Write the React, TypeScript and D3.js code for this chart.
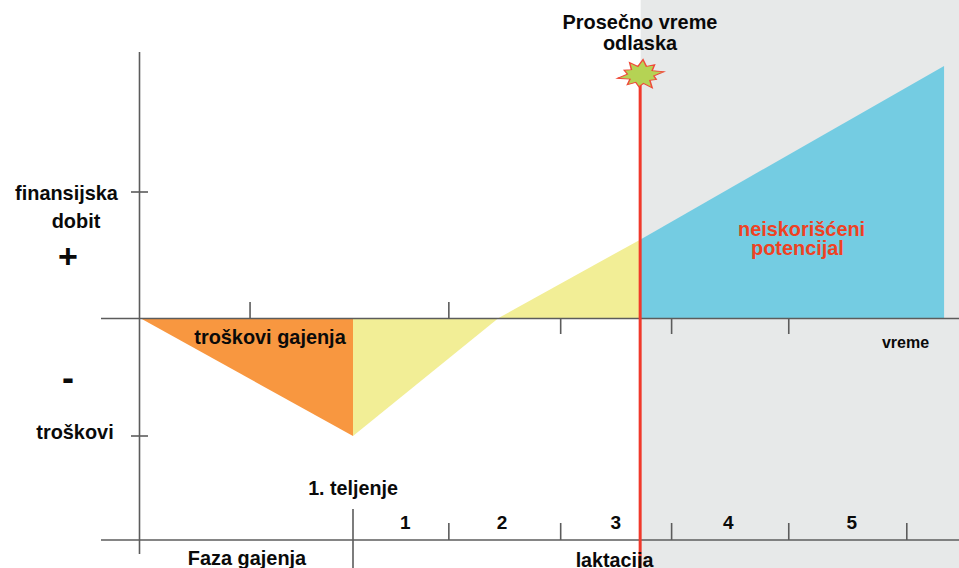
import React from "react";
import * as d3 from "d3";

// x unit: months of the cow's life; y unit: financial result (+/- 1 = labelled axis ticks)
const rearingLoss: [number, number][] = [[0, 0], [24, 0], [24, -1]];
const lactationLoss: [number, number][] = [[24, 0], [40.4, 0], [24, -1]];
const lactationGain: [number, number][] = [[40.4, 0], [56.3, 0.62], [56.3, 0]];
const unusedPotential: [number, number][] = [[56.3, 0.62], [90.6, 2.0], [90.6, 0], [56.3, 0]];
const upperTicksUp = [12.4, 34.8];
const upperTicksDown = [47.4, 59.9, 73.1];
const lowerTicks = [34.8, 47.4, 59.9, 73.1, 86.4];
const yTicks = [1, -1];
const departureMonth = 56.3;
const calvingMonth = 24;
const lactationNumbers = [
  { n: "1", m: 29.9 },
  { n: "2", m: 40.8 },
  { n: "3", m: 53.6 },
  { n: "4", m: 66.3 },
  { n: "5", m: 80.2 },
];
const starRadii = [25, 15, 22, 14, 25, 14, 18, 13, 24, 14, 19, 13, 21, 13, 25, 14, 19, 13, 23, 14];
const textLabels = [
  { t: "Prosečno vreme", x: 640, y: 29, s: 19.9, a: "middle", c: "#0a0a0a" },
  { t: "odlaska", x: 640, y: 50, s: 19.9, a: "middle", c: "#0a0a0a" },
  { t: "finansijska", x: 66.5, y: 200, s: 19.9, a: "middle", c: "#0a0a0a" },
  { t: "dobit", x: 76, y: 228, s: 19.9, a: "middle", c: "#0a0a0a" },
  { t: "+", x: 68, y: 268, s: 34, a: "middle", c: "#0a0a0a" },
  { t: "-", x: 68, y: 390, s: 36, a: "middle", c: "#0a0a0a" },
  { t: "troškovi", x: 75, y: 439, s: 19.9, a: "middle", c: "#0a0a0a" },
  { t: "troškovi gajenja", x: 270, y: 344, s: 19.9, a: "middle", c: "#0a0a0a" },
  { t: "neiskorišćeni", x: 738, y: 236, s: 19.9, a: "start", c: "#ef4123" },
  { t: "potencijal", x: 751, y: 255, s: 19.9, a: "start", c: "#ef4123" },
  { t: "vreme", x: 905.5, y: 348, s: 16, a: "middle", c: "#0a0a0a" },
  { t: "1. teljenje", x: 353, y: 495, s: 19.7, a: "middle", c: "#0a0a0a" },
  { t: "Faza gajenja", x: 247, y: 565, s: 19.9, a: "middle", c: "#0a0a0a" },
  { t: "laktacija", x: 614.5, y: 567, s: 19.7, a: "middle", c: "#0a0a0a" },
];

const W = 959;
const H = 568;
const x = d3.scaleLinear().domain([0, 24]).range([140, 353]);
const y = d3.scaleLinear().domain([-1, 0, 1]).range([436, 318, 192]);
const area = d3.line<[number, number]>().x((d) => x(d[0])).y((d) => y(d[1]));
const axisColor = "#5c5c5c";
const axisY2 = 540;

export default function App() {
  const starX = x(departureMonth) + 1;
  const starY = 75;
  const star = d3
    .lineRadial<number>()
    .angle((_, i) => (i / starRadii.length) * 2 * Math.PI + 0.1)
    .radius((d) => d)
    .curve(d3.curveLinearClosed)(starRadii) as string;

  return (
    <svg
      width={W}
      height={H}
      style={{ position: "absolute", left: 0, top: 0, background: "#fff", fontFamily: "'Liberation Sans', Arial, sans-serif" }}
    >
      <rect x={x(departureMonth) + 1} y={0} width={W - x(departureMonth)} height={H} fill="#e7e9e9" />
      <path d={area(rearingLoss) as string} fill="#f89740" />
      <path d={area(lactationLoss) as string} fill="#f2ee96" />
      <path d={area(lactationGain) as string} fill="#f2ee96" />
      <path d={area(unusedPotential) as string} fill="#74cce2" />

      <g stroke={axisColor} strokeWidth={1.6} fill="none">
        <line x1={139.5} x2={139.5} y1={52} y2={554} />
        <line x1={101} x2={W} y1={y(0) + 0.5} y2={y(0) + 0.5} />
        <line x1={101} x2={W} y1={axisY2} y2={axisY2} />
        <line x1={x(calvingMonth)} x2={x(calvingMonth)} y1={509} y2={H} />
        {yTicks.map((t) => (
          <line key={t} x1={131} x2={148} y1={y(t)} y2={y(t)} />
        ))}
        {upperTicksUp.map((t) => (
          <line key={t} x1={x(t)} x2={x(t)} y1={302} y2={y(0)} />
        ))}
        {upperTicksDown.map((t) => (
          <line key={t} x1={x(t)} x2={x(t)} y1={y(0)} y2={334} />
        ))}
        {lowerTicks.map((t) => (
          <line key={t} x1={x(t)} x2={x(t)} y1={523} y2={axisY2} />
        ))}
      </g>

      <line x1={x(departureMonth) + 0.5} x2={x(departureMonth) + 0.5} y1={85} y2={H} stroke="#f0392b" strokeWidth={3} />
      <path
        d={star}
        transform={`translate(${starX},${starY}) scale(0.95,0.62)`}
        fill="#b5d354"
        stroke="#ef4a3a"
        strokeWidth={1.6}
      />

      {textLabels.map((l) => (
        <text key={l.t} x={l.x} y={l.y} fontSize={l.s} fontWeight={700} textAnchor={l.a as "middle" | "start"} fill={l.c}>
          {l.t}
        </text>
      ))}
      {lactationNumbers.map((l) => (
        <text key={l.n} x={x(l.m)} y={529} fontSize={19} fontWeight={700} textAnchor="middle" fill="#0a0a0a">
          {l.n}
        </text>
      ))}
    </svg>
  );
}
